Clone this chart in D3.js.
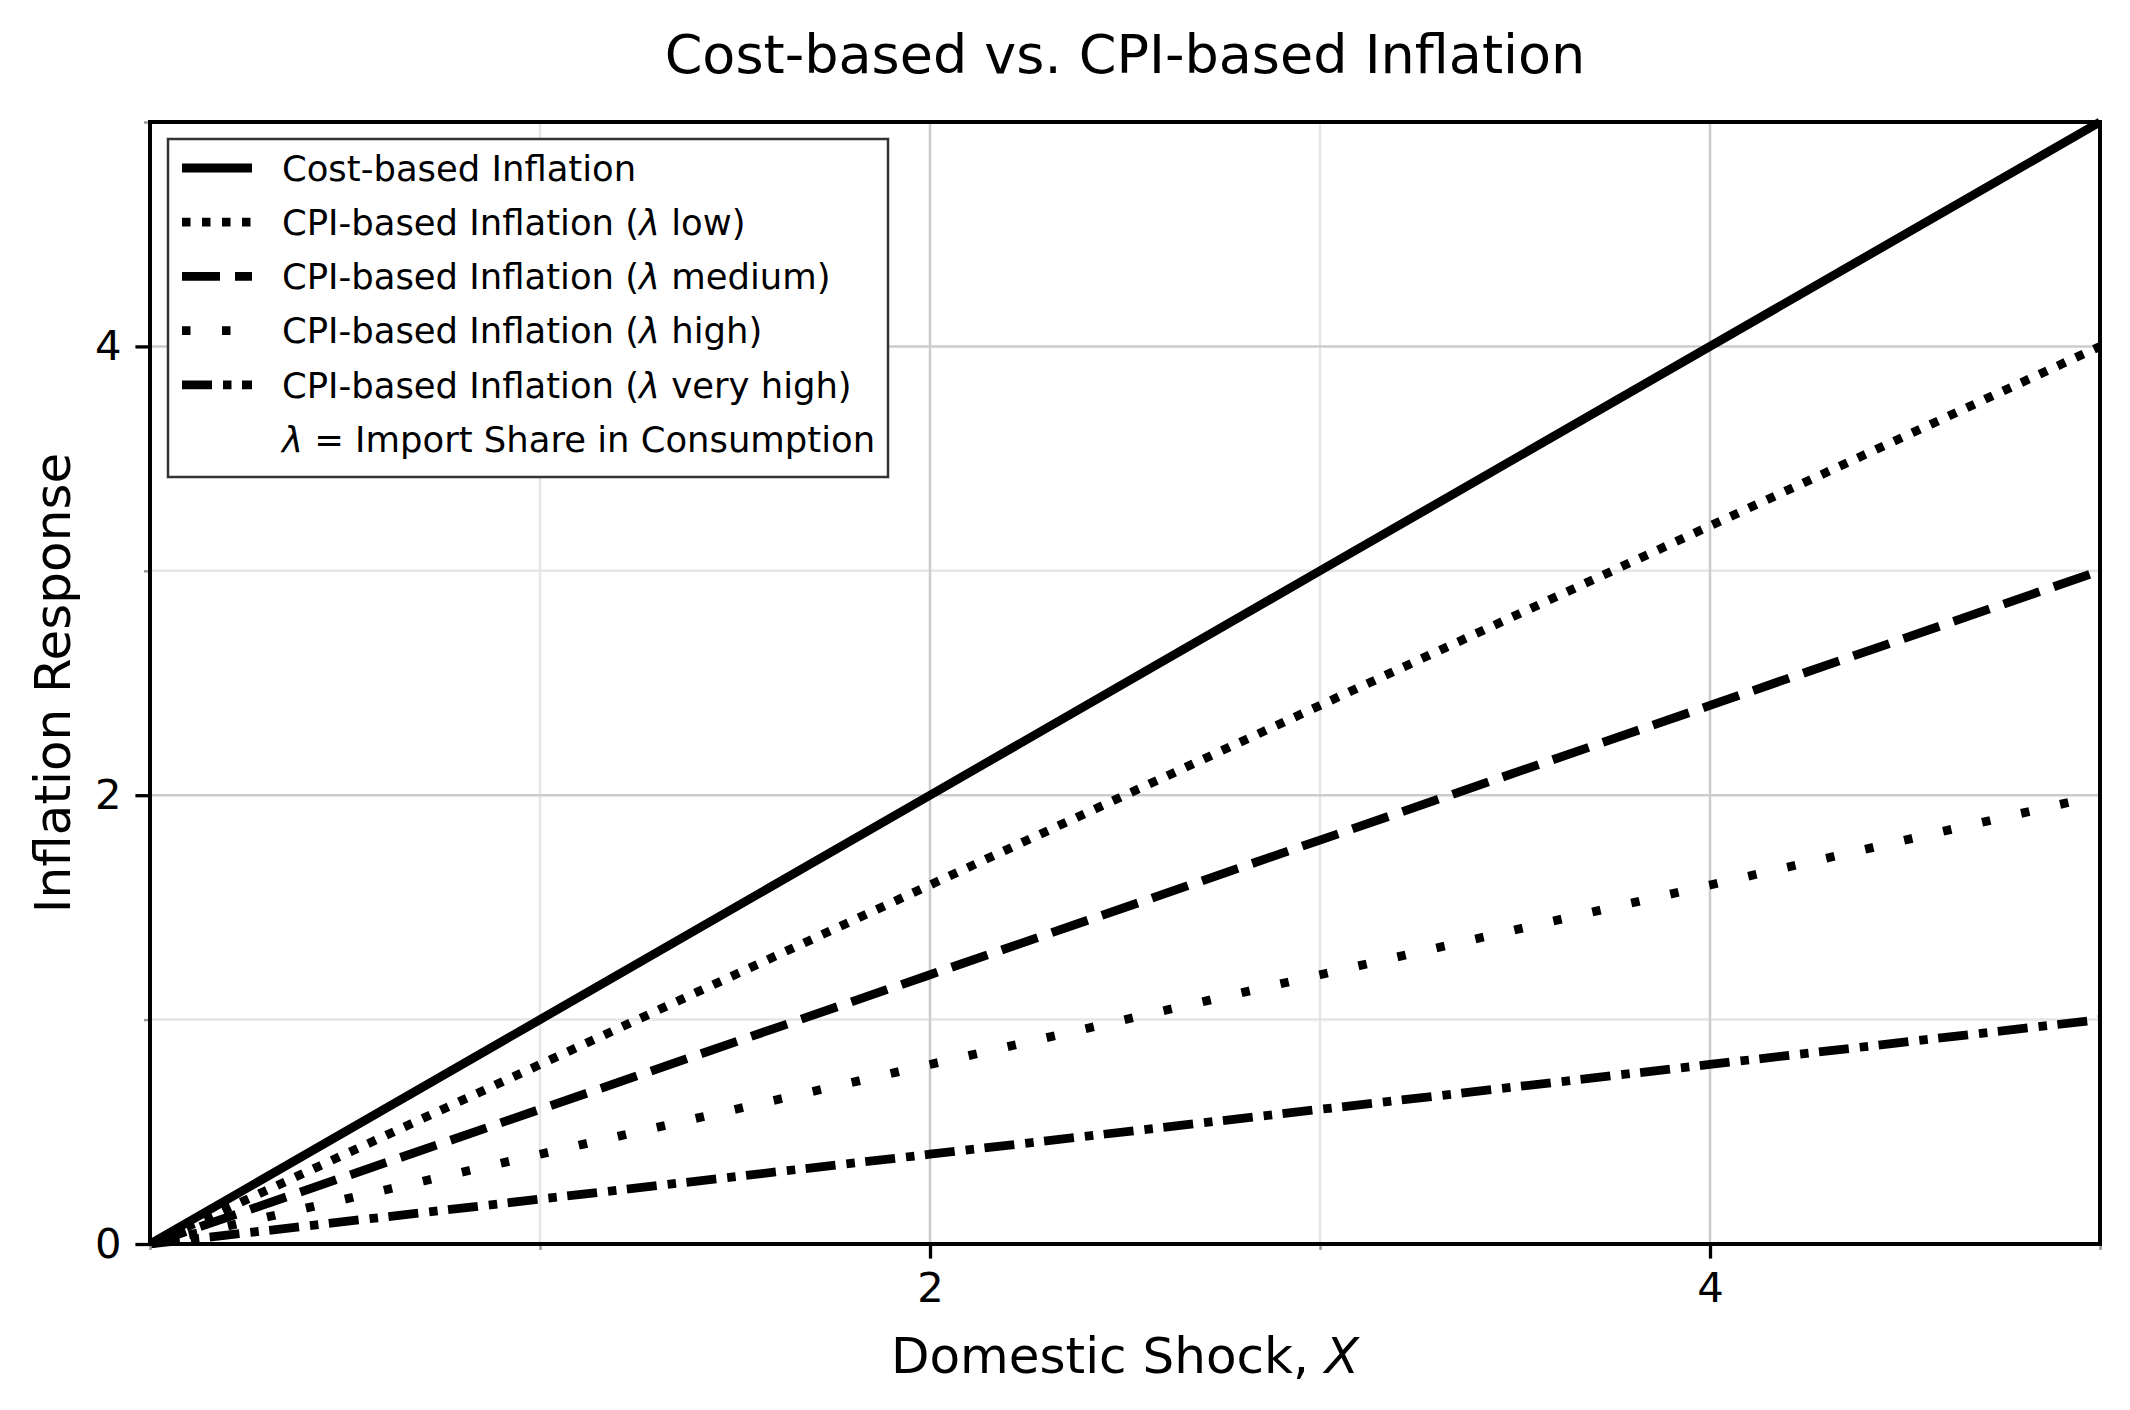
<!DOCTYPE html>
<html>
<head>
<meta charset="utf-8">
<script src="https://cdn.jsdelivr.net/npm/d3@7"></script>
<style>
  body { margin: 0; background: #fff; }
  svg { display: block; font-family: "DejaVu Sans", sans-serif; }
</style>
</head>
<body>
<svg id="chart" width="2130" height="1410"></svg>
<script>
// Data
const shock = [0, 1, 2, 3, 4, 5];
const costBased = [0, 1, 2, 3, 4, 5];
const cpiLow = [0, 0.8, 1.6, 2.4, 3.2, 4.0];
const cpiMedium = [0, 0.6, 1.2, 1.8, 2.4, 3.0];
const cpiHigh = [0, 0.4, 0.8, 1.2, 1.6, 2.0];
const cpiVeryHigh = [0, 0.2, 0.4, 0.6, 0.8, 1.0];

const xMajor = [2, 4];
const yMajor = [0, 2, 4];
const xMinor = [0, 1, 3, 5];
const yMinor = [1, 3, 5];

const seriesNames = [
  "Cost-based Inflation",
  "CPI-based Inflation (λ low)",
  "CPI-based Inflation (λ medium)",
  "CPI-based Inflation (λ high)",
  "CPI-based Inflation (λ very high)"
];
const seriesValues = [costBased, cpiLow, cpiMedium, cpiHigh, cpiVeryHigh];
const dashes = [null, "8.5 11.5", "38 15", "8.5 31.5", "30 11 8.5 10.5"];

// Layout
const margin = { left: 150, right: 30, top: 122, bottom: 166 };
const W = 2130, H = 1410;
const svg = d3.select("#chart");

const x = d3.scaleLinear().domain([0, 5]).range([margin.left, W - margin.right]);
const y = d3.scaleLinear().domain([0, 5]).range([H - margin.bottom, margin.top]);

// grid
const grid = svg.append("g");
grid.selectAll(".vminor").data(xMinor).join("line")
  .attr("x1", d => x(d)).attr("x2", d => x(d))
  .attr("y1", y(0)).attr("y2", y(5))
  .attr("stroke", "#e5e5e5").attr("stroke-width", 2.5);
grid.selectAll(".hminor").data(yMinor).join("line")
  .attr("x1", x(0)).attr("x2", x(5))
  .attr("y1", d => y(d)).attr("y2", d => y(d))
  .attr("stroke", "#e5e5e5").attr("stroke-width", 2.5);
grid.selectAll(".vmajor").data(xMajor).join("line")
  .attr("x1", d => x(d)).attr("x2", d => x(d))
  .attr("y1", y(0)).attr("y2", y(5))
  .attr("stroke", "#cccccc").attr("stroke-width", 2.5);
grid.selectAll(".hmajor").data(yMajor).join("line")
  .attr("x1", x(0)).attr("x2", x(5))
  .attr("y1", d => y(d)).attr("y2", d => y(d))
  .attr("stroke", "#cccccc").attr("stroke-width", 2.5);

// lines
const line = d3.line().x((d, i) => x(shock[i])).y(d => y(d));
svg.append("g").selectAll("path")
  .data(seriesValues)
  .join("path")
  .attr("d", d => line(d))
  .attr("fill", "none")
  .attr("stroke", "#000")
  .attr("stroke-width", 8.8)
  .attr("stroke-linecap", "butt")
  .attr("stroke-dasharray", (d, i) => dashes[i]);

// axes
function styleAxis(g, color, width) {
  g.select(".domain").remove();
  g.selectAll(".tick line").attr("stroke", color).attr("stroke-width", width);
  g.selectAll("text").attr("fill", "#000")
    .style("font-family", "'DejaVu Sans', sans-serif").style("font-size", "41.7px");
}

svg.append("g")
  .attr("transform", `translate(0,${y(0)})`)
  .call(d3.axisBottom(x).tickValues(xMinor).tickSize(6).tickFormat(""))
  .call(g => styleAxis(g, "#999", 2.5));
svg.append("g")
  .attr("transform", `translate(${x(0)},0)`)
  .call(d3.axisLeft(y).tickValues(yMinor).tickSize(6).tickFormat(""))
  .call(g => styleAxis(g, "#999", 2.5));

svg.append("g")
  .attr("transform", `translate(0,${y(0)})`)
  .call(d3.axisBottom(x).tickValues(xMajor).tickSize(14.6).tickPadding(14).tickFormat(d3.format("d")))
  .call(g => styleAxis(g, "#000", 3.3));
svg.append("g")
  .attr("transform", `translate(${x(0)},0)`)
  .call(d3.axisLeft(y).tickValues(yMajor).tickSize(14.6).tickPadding(14).tickFormat(d3.format("d")))
  .call(g => styleAxis(g, "#000", 3.3));

// frame
svg.append("rect")
  .attr("x", x(0)).attr("y", y(5))
  .attr("width", x(5) - x(0)).attr("height", y(0) - y(5))
  .attr("fill", "none").attr("stroke", "#000").attr("stroke-width", 4);

// title and labels
svg.append("text")
  .attr("x", (x(0) + x(5)) / 2).attr("y", 73)
  .attr("text-anchor", "middle").style("font-size", "54px")
  .text("Cost-based vs. CPI-based Inflation");

const xl = svg.append("text")
  .attr("x", (x(0) + x(5)) / 2).attr("y", 1373)
  .attr("text-anchor", "middle").style("font-size", "50px");
xl.append("tspan").text("Domestic Shock, ");
xl.append("tspan").style("font-style", "italic").text("X");

svg.append("text")
  .attr("transform", `translate(70,${(y(0) + y(5)) / 2}) rotate(-90)`)
  .attr("text-anchor", "middle").style("font-size", "50px")
  .text("Inflation Response");

// legend
const legend = svg.append("g");
legend.append("rect")
  .attr("x", 168).attr("y", 139).attr("width", 720).attr("height", 338)
  .attr("fill", "#fff").attr("stroke", "#333").attr("stroke-width", 2.5);

const rowY = i => 168 + i * 54.2;
const legendRows = seriesNames.concat(["λ = Import Share in Consumption"]);

legend.selectAll("line.handle")
  .data(seriesNames)
  .join("line")
  .attr("x1", 182).attr("x2", 252)
  .attr("y1", (d, i) => rowY(i)).attr("y2", (d, i) => rowY(i))
  .attr("stroke", "#000").attr("stroke-width", 8.8)
  .attr("stroke-dasharray", (d, i) => dashes[i]);

legend.selectAll("text")
  .data(legendRows)
  .join("text")
  .attr("x", 282)
  .attr("y", (d, i) => rowY(i))
  .attr("dy", "0.36em")
  .style("font-size", "35.4px")
  .each(function (d) {
    const parts = d.split("λ");
    const t = d3.select(this);
    parts.forEach((p, k) => {
      if (k > 0) t.append("tspan").style("font-style", "italic").text("λ");
      if (p) t.append("tspan").text(p);
    });
  });
</script>
</body>
</html>
